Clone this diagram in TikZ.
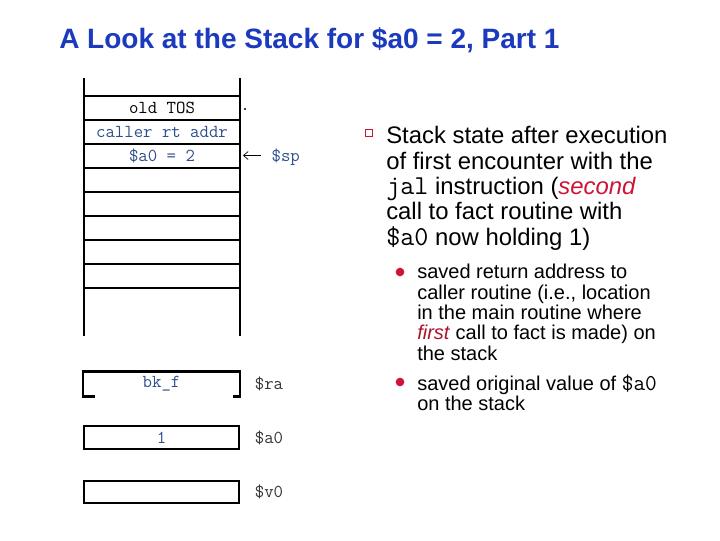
\documentclass[tikz,border=0pt]{standalone}
\usepackage{xcolor}
\usepackage{fontspec}
\setmainfont{Liberation Sans}
\usetikzlibrary{positioning,arrows.meta}

\definecolor{titleblue}{RGB}{28,58,190}
\definecolor{codeblue}{RGB}{48,78,140}
\definecolor{hilite}{RGB}{205,20,55}
\definecolor{firstred}{RGB}{170,20,45}

\tikzset{
  stackline/.style={line width=2.1pt},
  regline/.style={line width=1.7pt},
  cell/.style={inner sep=1pt, font=\ttfamily\fontsize{13.7}{15}\selectfont},
  regbox/.style={cell, draw, line width=1.7pt, minimum width=116pt, minimum height=17pt},
  reglabel/.style={cell, text=black!80, inner sep=0pt},
  pointer/.style={-{Straight Barb[length=3.5pt,width=6pt]}, line width=0.5pt},
  headline/.style={font=\bfseries\fontsize{21}{24}\selectfont, text=titleblue, inner sep=0pt},
  mainitem/.style={font=\fontsize{17.9}{19.1}\selectfont, align=left, inner sep=0pt},
  subitem/.style={font=\fontsize{15}{15.3}\selectfont, align=left, inner sep=0pt},
  dot/.style={circle, fill=hilite, inner sep=0pt, minimum size=6.5pt}
}
\newcommand{\maincode}[1]{{\fontsize{20.5}{19.1}\selectfont\ttfamily #1}}
\newcommand{\subcode}[1]{{\fontsize{17}{15.3}\selectfont\ttfamily #1}}

\begin{document}
\begin{tikzpicture}[x=0.75pt,y=-0.75pt]
\useasboundingbox (0,0) rectangle (720,540);

\node[headline, anchor=base west] (title) at (59,48) {A Look at the Stack for \$a0 = 2, Part 1};

% the stack
\draw[stackline] (84,78) -- (84,336);
\draw[stackline] (240,78) -- (240,336);
\foreach \y in {96,120,...,288}
  \draw[stackline] (84,\y) -- (240,\y);

\node[cell] (tos) at (162,108) {old TOS};
\node[cell, text=codeblue] (retaddr) at (162,132) {caller rt addr};
\node[cell, text=codeblue] (oldarg) at (162,156) {\$a0 = 2};
\fill (245,109) circle (0.8pt);
\node[cell, text=codeblue, anchor=west] (sp) at (270,157) {\$sp};
\coordinate (sptip) at (243,155.5);
\draw[pointer, shorten <=7pt] (sp.west|-sptip) -- (sptip);

% registers
\node[regbox, draw=none, text=codeblue] (ravalue) at (161.5,384) {bk\_f};
\draw[regline] ([xshift=9pt]ravalue.south west) -- (ravalue.south west) -- (ravalue.north west)
  -- (ravalue.north east) -- (ravalue.south east) -- ([xshift=-5pt]ravalue.south east);
\node[regbox, text=codeblue] (a0value) at (161.5,437.5) {1};
\node[regbox] (v0value) at (161.5,492) {};
\node[reglabel, right=11pt of ravalue] (ra) {\$ra};
\node[reglabel, right=11pt of a0value] (a0) {\$a0};
\node[reglabel, right=11pt of v0value] (v0) {\$v0};

% notes
\node[draw=hilite, line width=0.9pt, inner sep=0pt, minimum size=5.5pt] (statebox) at (369,133) {};
\node[mainitem, anchor=north west] (state) at (386,126) {Stack state after execution\\
  of first encounter with the\\
  \maincode{jal} instruction (\textcolor{hilite}{\textit{second}}\\
  call to fact routine with\\
  \maincode{\$a0} now holding 1)};
\node[dot] (retdot) at (400,272) {};
\node[subitem, anchor=north west] (saveret) at (417,264) {saved return address to\\
  caller routine (i.e., location\\
  in the main routine where\\
  \textcolor{firstred}{\textit{first}} call to fact is made) on\\
  the stack};
\node[dot] (argdot) at (400,382) {};
\node[subitem, anchor=north west] (savearg) at (417,374) {saved original value of \subcode{\$a0}\\
  on the stack};
\end{tikzpicture}
\end{document}
